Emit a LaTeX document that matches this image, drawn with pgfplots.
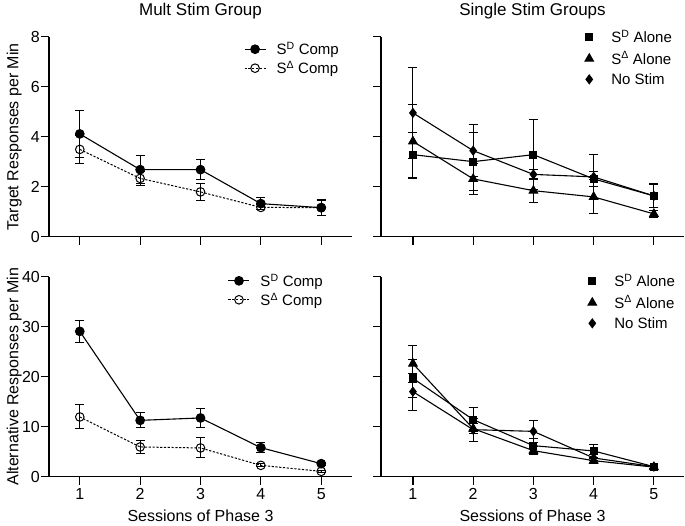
\documentclass[border=0pt]{standalone}
\usepackage{fontspec}
\setmainfont{Liberation Sans}
\usepackage{pgfplots}
\pgfplotsset{compat=1.18}
\pgfplotsset{
  panel/.style={
    scale only axis, width=303pt, height=200pt,
    axis lines=left, axis line style={-, line width=1.2pt},
    x axis line style={-}, y axis line style={-},
    tick align=outside, major tick length=8pt,
    tick style={line width=1.2pt, black},
    xtick={1,2,3,4,5},
    /pgf/number format/assume math mode=true,
    tick label style={font=\fontsize{16}{16}\selectfont},
    yticklabel style={inner xsep=1pt},
    label style={font=\fontsize{16}{19}\selectfont},
    title style={font=\fontsize{17}{20}\selectfont, at={(axis description cs:0.5,1.075)}, anchor=base},
    xlabel style={at={(axis description cs:0.5,-0.225)}, anchor=base},
    ylabel style={at={(axis description cs:-0.1013,0.5)}, anchor=base},
    legend style={draw=none, fill=none, font=\fontsize{15}{18}\selectfont, anchor=north west, row sep=1pt},
    legend cell align=left,
    clip=false,
  },
  eb/.style={error bars/.cd, y dir=both, y explicit,
    error bar style={solid, line width=1pt},
    error mark options={solid, rotate=90, mark size=4.5pt, line width=1pt}},
  sdc/.style={black, solid, line width=1.1pt, mark=*, mark size=4.3pt, mark options={solid, fill=black}},
  sac/.style={black, dash pattern=on 2.2pt off 1.6pt, line width=1pt, mark=o, mark size=4.3pt, mark options={solid, fill=white, line width=1pt}},
  sq/.style={black, solid, line width=1.1pt, mark=square*, mark size=3.4pt, mark options={solid}},
  tr/.style={black, solid, line width=1.1pt, mark=triangle*, mark size=4.8pt, mark options={solid}},
  di/.style={black, solid, line width=1.1pt, mark=diamond*, mark size=4.3pt, mark options={solid}},
  leftleg/.style={legend image code/.code={\path[draw=none] (0pt,0pt) -- (30pt,0pt); \draw[mark repeat=2,mark phase=2,##1] plot coordinates {(0pt,0pt)(10.5pt,0pt)(21pt,0pt)};}},
  rightleg/.style={legend style={row sep=3.5pt}, legend image code/.code={\path[draw=none] (0pt,0pt) -- (26pt,0pt); \draw[##1, only marks] plot coordinates {(6pt,0pt)};}},
}
\begin{document}
\begin{tikzpicture}
\path (0pt,0pt) rectangle (685pt,-520pt);
% top-left
\begin{axis}[panel, leftleg, at={(49pt,-232pt)}, anchor=south west,
  xmin=0.49, xmax=5.51, ymin=0, ymax=8, ytick={0,2,4,6,8}, xticklabels={},
  title={Mult Stim Group}, ylabel={Target Responses per Min},
  legend style={at={(axis description cs:0.633,0.993)}}]
\addplot[sdc, eb] coordinates {(1,4.11) +- (0,0.95) (2,2.68) +- (0,0.57) (3,2.68) +- (0,0.40) (4,1.32) +- (0,0.25) (5,1.16) +- (0,0.30)};
\addlegendentry{S\textsuperscript{D} Comp}
\addplot[sac, eb] coordinates {(1,3.49) +- (0,0.57) (2,2.33) +- (0,0.28) (3,1.79) +- (0,0.35) (4,1.17) +- (0,0.10) (5,1.16) +- (0,0.33)};
\addlegendentry{S\textsuperscript{Δ} Comp}
\end{axis}
% top-right
\begin{axis}[panel, rightleg, at={(381pt,-232pt)}, anchor=south west,
  xmin=0.47, xmax=5.5, ymin=0, ymax=8, ytick={0,2,4,6,8}, xticklabels={}, yticklabels={},
  title={Single Stim Groups},
  legend style={at={(axis description cs:0.657,1.053)}}]
\addplot[forget plot, sq, eb] coordinates {(1,3.28) +- (0,0.90) (2,3.00) +- (0,1.15) (3,3.28) +- (0,1.41) (4,2.31) +- (0,0.30) (5,1.63) +- (0,0.45)};
\addplot[forget plot, tr, eb] coordinates {(1,3.81) +- (0,1.47) (2,2.31) +- (0,0.63) (3,1.84) +- (0,0.47) (4,1.59) +- (0,0.68) (5,0.91) +- (0,0.15)};
\addplot[forget plot, di, eb] coordinates {(1,4.95) +- (0,1.82) (2,3.44) +- (0,1.04) (3,2.49) +- (0,0.20) (4,2.39) +- (0,0.89) (5,1.63) +- (0,0.48)};
\addlegendimage{sq}
\addlegendentry{S\textsuperscript{D} Alone}
\addlegendimage{tr}
\addlegendentry{S\textsuperscript{Δ} Alone}
\addlegendimage{di}
\addlegendentry{No Stim}
\end{axis}
% bottom-left
\begin{axis}[panel, leftleg, at={(49pt,-472pt)}, anchor=south west,
  xmin=0.49, xmax=5.51, ymin=0, ymax=40, ytick={0,10,20,30,40},
  xlabel={Sessions of Phase 3}, ylabel={Alternative Responses per Min},
  legend style={at={(axis description cs:0.58,1.035)}}]
\addplot[sdc, eb] coordinates {(1,29.06) +- (0,2.2) (2,11.26) +- (0,1.5) (3,11.74) +- (0,1.9) (4,5.8) +- (0,1.05) (5,2.6) +- (0,0.3)};
\addlegendentry{S\textsuperscript{D} Comp}
\addplot[sac, eb] coordinates {(1,11.94) +- (0,2.4) (2,5.94) +- (0,1.3) (3,5.74) +- (0,2.0) (4,2.26) +- (0,0.3) (5,1.06) +- (0,0.2)};
\addlegendentry{S\textsuperscript{Δ} Comp}
\end{axis}
% bottom-right
\begin{axis}[panel, rightleg, at={(381pt,-472pt)}, anchor=south west,
  xmin=0.47, xmax=5.5, ymin=0, ymax=40, ytick={0,10,20,30,40}, yticklabels={},
  xlabel={Sessions of Phase 3},
  legend style={at={(axis description cs:0.667,1.033)}}]
\addplot[forget plot, sq, eb] coordinates {(1,19.66) +- (0,3.8) (2,11.4) +- (0,2.4) (3,6.2) +- (0,1.5) (4,5.14) +- (0,1.25) (5,2.0) +- (0,0.3)};
\addplot[forget plot, tr, eb] coordinates {(1,22.6) +- (0,3.7) (2,9.6) +- (0,1.0) (3,5.2) +- (0,0.8) (4,3.2) +- (0,0.5) (5,1.9) +- (0,0.3)};
\addplot[forget plot, di, eb] coordinates {(1,17.0) +- (0,3.7) (2,9.4) +- (0,2.3) (3,9.06) +- (0,2.2) (4,3.74) +- (0,0.6) (5,2.0) +- (0,0.3)};
\addlegendimage{sq}
\addlegendentry{S\textsuperscript{D} Alone}
\addlegendimage{tr}
\addlegendentry{S\textsuperscript{Δ} Alone}
\addlegendimage{di}
\addlegendentry{No Stim}
\end{axis}
\end{tikzpicture}
\end{document}
